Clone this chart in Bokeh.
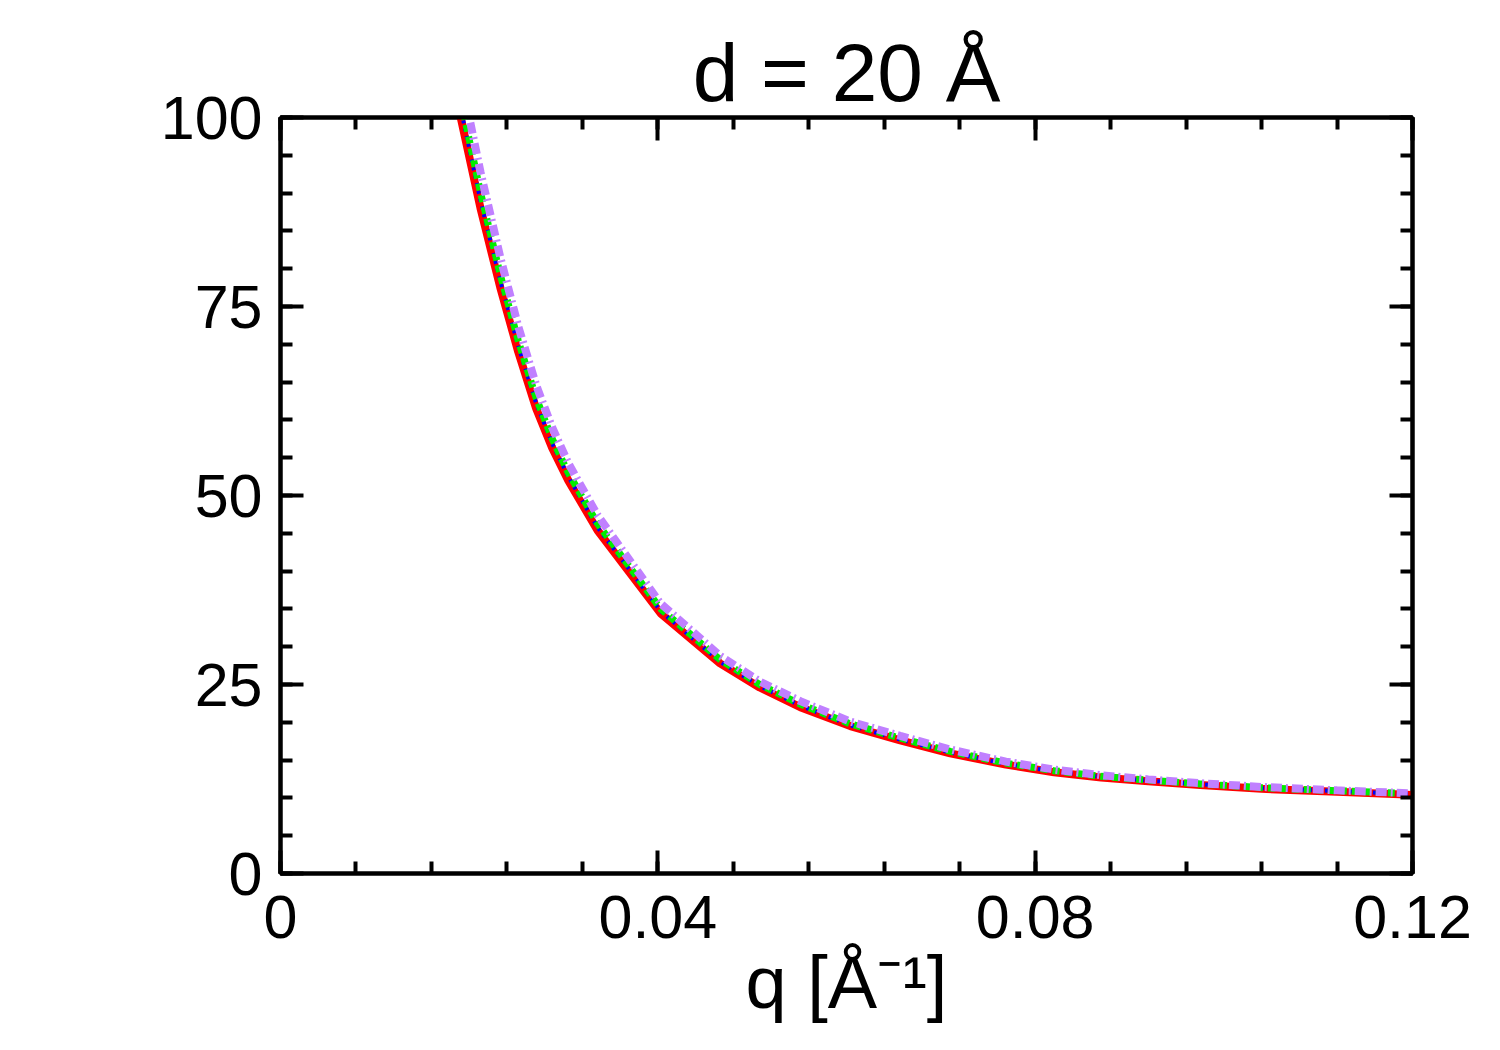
from bokeh.plotting import figure
from bokeh.models import Range1d, FixedTicker, LinearAxis
from bokeh.embed import file_html
from bokeh.resources import INLINE

# ---- data ----
q = [0.0170, 0.0191, 0.0212, 0.0233, 0.0252, 0.0271, 0.0288, 0.0305, 0.0336, 0.0403,
     0.0466, 0.0508, 0.0551, 0.0604, 0.0657, 0.0710, 0.0769, 0.0820, 0.0870, 0.0920,
     0.0975, 0.1040, 0.1120, 0.1200]
y_red = [118.0, 100.0, 88.0, 77.5, 69.0, 61.5, 56.3, 52.0, 45.4, 34.4,
         27.8, 24.6, 22.0, 19.5, 17.6, 15.9, 14.4, 13.4, 12.7, 12.2,
         11.7, 11.2, 10.8, 10.4]
y_blue = [119.5, 101.2, 89.0, 78.4, 69.8, 62.2, 56.9, 52.5, 45.8, 34.7,
          28.0, 24.8, 22.2, 19.6, 17.7, 16.0, 14.5, 13.5, 12.8, 12.3,
          11.8, 11.3, 10.9, 10.5]
y_green = [121.0, 102.4, 90.1, 79.2, 70.5, 62.9, 57.5, 53.0, 46.3, 35.0,
           28.3, 25.0, 22.4, 19.8, 17.9, 16.15, 14.6, 13.6, 12.85, 12.35,
           11.85, 11.35, 10.95, 10.55]
y_purple = [124.0, 105.5, 92.8, 81.5, 72.4, 64.6, 59.0, 54.3, 47.4, 35.7,
            28.8, 25.4, 22.8, 20.1, 18.2, 16.4, 14.8, 13.75, 13.0, 12.45,
            11.95, 11.45, 11.0, 10.6]

x_major = [0, 0.04, 0.08, 0.12]
x_labels = ["0", "0.04", "0.08", "0.12"]
x_minor = [0.008 * i for i in range(16)]
y_major = [0, 25, 50, 75, 100]
y_labels = ["0", "25", "50", "75", "100"]
y_minor = [5 * i for i in range(21)]

title_text = "d = 20 Å"
x_title = "q [Å\u207b\u00b9]"
FONT = "Liberation Sans"

p = figure(width=1500, height=1050, x_range=Range1d(0, 0.12), y_range=Range1d(0, 100),
           output_backend="svg", toolbar_location=None,
           min_border_left=280, min_border_right=88, min_border_top=117, min_border_bottom=177)
p.grid.visible = False
p.outline_line_color = "black"
p.outline_line_width = 4
p.background_fill_color = "white"
p.border_fill_color = "white"

p.title.text = title_text
p.title.align = "center"
p.title.text_font = FONT
p.title.text_font_size = "82px"
p.title.text_font_style = "normal"
p.title.text_color = "black"
p.title.standoff = 0

def style_axis(ax, major, minor, labels, standoff):
    ax.ticker = FixedTicker(ticks=major, minor_ticks=minor)
    ax.major_tick_in = 23
    ax.major_tick_out = 0
    ax.minor_tick_in = 12
    ax.minor_tick_out = 0
    ax.major_tick_line_width = 4
    ax.minor_tick_line_width = 4
    ax.major_tick_line_color = "black"
    ax.minor_tick_line_color = "black"
    ax.axis_line_width = 4
    ax.axis_line_color = "black"
    ax.major_label_overrides = {m: l for m, l in zip(major, labels)}
    ax.major_label_text_font = FONT
    ax.major_label_text_color = "black"
    ax.major_label_text_font_size = "61px"
    ax.major_label_standoff = standoff

style_axis(p.xaxis[0], x_major, x_minor, x_labels, 22)
style_axis(p.yaxis[0], y_major, y_minor, y_labels, 18)
p.xaxis[0].axis_label = x_title
p.xaxis[0].axis_label_text_font = FONT
p.xaxis[0].axis_label_text_font_size = "74px"
p.xaxis[0].axis_label_text_font_style = "normal"
p.xaxis[0].axis_label_text_color = "black"
p.xaxis[0].axis_label_standoff = 0

top_ax = LinearAxis()
right_ax = LinearAxis()
style_axis(top_ax, x_major, x_minor, [""] * len(x_major), 0)
style_axis(right_ax, y_major, y_minor, [""] * len(y_major), 0)
p.add_layout(top_ax, "above")
p.add_layout(right_ax, "right")

p.line(q, y_red, line_color="#ff0000", line_width=8)
p.line(q, y_blue, line_color="#0000ff", line_width=4, line_dash="3 5")
p.line(q, y_green, line_color="#00ee00", line_width=7, line_dash="7 5")
p.line(q, y_purple, line_color="#c080ff", line_width=8, line_dash="11 4 2 4")

open("out.html", "w").write(file_html(p, INLINE))
